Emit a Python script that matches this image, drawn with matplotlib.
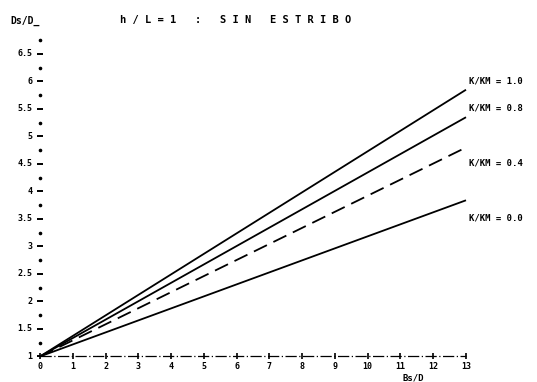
import numpy as np
import matplotlib
matplotlib.use("Agg")
import matplotlib.pyplot as plt

# data
x_ends = [0, 13]
y_k10 = [1.0, 5.85]
y_k08 = [1.0, 5.35]
y_k04 = [1.0, 4.80]
y_k00 = [1.0, 3.84]

series = [y_k10, y_k08, y_k04, y_k00]
styles = ['-', '-', (0, (8, 4)), '-']
labels = ["K/KM = 1.0", "K/KM = 0.8", "K/KM = 0.4", "K/KM = 0.0"]
label_px_y = [81, 108, 163, 218]  # where the plotter wrote each label

y_ticks = [1, 1.5, 2, 2.5, 3, 3.5, 4, 4.5, 5, 5.5, 6, 6.5]
y_ticklabels = ["1", "1.5", "2", "2.5", "3", "3.5", "4", "4.5", "5", "5.5", "6", "6.5"]
y_dots = [1.25, 1.75, 2.25, 2.75, 3.25, 3.75, 4.25, 4.75, 5.25, 5.75, 6.25, 6.75]
x_ticks = list(range(0, 14))

W, H = 537, 382
fig = plt.figure(figsize=(W / 100, H / 100), dpi=100)
ax = fig.add_axes([0.0683, 0.0596, 0.8117, 0.8567])
ax.set_xlim(-0.1, 13.2)
ax.set_ylim(0.95, 6.9)
ax.axis('off')

font = dict(family='DejaVu Sans Mono', weight='bold', color='black')

for ys, ls in zip(series, styles):
    ax.plot(x_ends, ys, color='black', lw=1.3, linestyle=ls, solid_capstyle='butt')

# y axis: dots between ticks, short dashes at ticks
ax.plot([0] * len(y_dots), y_dots, linestyle='none', marker='o', ms=1.6, color='black')
ax.plot([0] * len(y_ticks), y_ticks, linestyle='none', marker='_', ms=5, mew=1.4, color='black')
for y, t in zip(y_ticks, y_ticklabels):
    ax.text(-0.22, y, t, ha='right', va='center', fontsize=6, **font)

# x axis: dash-dot line with small ticks
ax.plot([0, 13], [1, 1], color='black', lw=0.9, linestyle=(0, (9, 2, 1, 2)))
ax.plot(x_ticks, [1] * len(x_ticks), linestyle='none', marker='|', ms=4, mew=1.2, color='black')
for x in x_ticks:
    ax.text(x, 1 - 0.18, str(x), ha='center', va='center', fontsize=6, **font)

# titles and labels
def px(x, y):
    return x / W, 1 - y / H

fig.text(*px(236, 20), "h / L = 1   :   S I N   E S T R I B O",
         ha='center', va='center', fontsize=7.5, **font)
fig.text(*px(10, 21), "Ds/D_", ha='left', va='center', fontsize=7, **font)
fig.text(*px(413, 378), "Bs/D", ha='center', va='center', fontsize=6.5, **font)
for lab, yp in zip(labels, label_px_y):
    fig.text(*px(469, yp), lab, ha='left', va='center', fontsize=6.5, **font)

fig.savefig("out.png", dpi=100, facecolor='white')
